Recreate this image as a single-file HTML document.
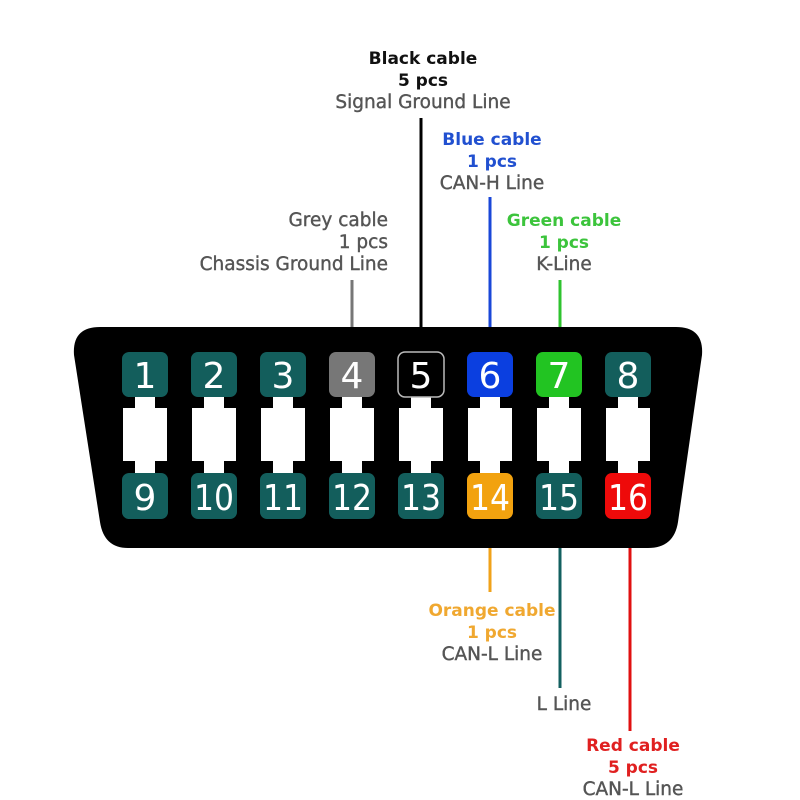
<!DOCTYPE html>
<html><head><meta charset="utf-8"><style>
html,body{margin:0;padding:0;background:#fff;}
svg{display:block;}
.t{font-family:"DejaVu Sans","Liberation Sans",sans-serif;font-size:17px;text-anchor:middle;}
.b{font-weight:bold;}
.g{fill:#555;font-size:18.5px;stroke:#555;stroke-width:0.4;}
.n{font-family:"DejaVu Sans","Liberation Sans",sans-serif;font-size:36px;fill:#fff;text-anchor:middle;font-weight:normal;}
</style></head><body>
<svg width="800" height="800" viewBox="0 0 800 800" xmlns="http://www.w3.org/2000/svg">
<rect width="800" height="800" fill="#fff"/>
<g stroke-width="3" fill="none">
<line x1="421" y1="118" x2="421" y2="354" stroke="#000"/>
<line x1="490" y1="197" x2="490" y2="354" stroke="#1a47d8"/>
<line x1="352" y1="280" x2="352" y2="354" stroke="#777"/>
<line x1="560" y1="280" x2="560" y2="354" stroke="#2fc32f"/>
<line x1="490" y1="518" x2="490" y2="592" stroke="#f0a21a"/>
<line x1="560" y1="518" x2="560" y2="688" stroke="#136060"/>
<line x1="630" y1="518" x2="630" y2="731" stroke="#e01010"/>
</g>
<path d="M100 327 L676 327 Q704 327 702 355 L678 522 Q674 548 648 548 L128 548 Q104 548 100 522 L74 355 Q72 327 100 327 Z" fill="#000"/>
<g id="pins">
</g>
<script>
(function(){
var g=document.getElementById('pins'),ns='http://www.w3.org/2000/svg';
var top=['#135e5c','#135e5c','#135e5c','#777','#000','#0b3fe0','#22c422','#135e5c'];
var bot=['#135e5c','#135e5c','#135e5c','#135e5c','#135e5c','#f2a20f','#135e5c','#ee0a0a'];
function el(n,a){var e=document.createElementNS(ns,n);for(var k in a)e.setAttribute(k,a[k]);g.appendChild(e);return e;}
for(var i=0;i<8;i++){
 var cx=145+69*i;
 el('rect',{x:cx-10,y:396,width:20,height:80,fill:'#fff'});
 el('rect',{x:cx-22,y:408,width:44,height:53,fill:'#fff'});
 var r=el('rect',{x:cx-23,y:352,width:46,height:45,rx:7,fill:top[i]});
 if(i==4){r.setAttribute('stroke','#bbb');r.setAttribute('stroke-width','1.5');}
 el('rect',{x:cx-23,y:473,width:46,height:46,rx:7,fill:bot[i]});
 var t=el('text',{x:cx,y:388,'class':'n'});t.textContent=String(i+1);
 var t2=el('text',{x:cx,y:510,'class':'n'});t2.textContent=String(i+9);
 if(i+9>=10){t2.setAttribute('textLength','40');t2.setAttribute('lengthAdjust','spacingAndGlyphs');}
}
})();
</script>
<text class="t b" x="423" y="64" fill="#111">Black cable</text>
<text class="t b" x="423" y="86" fill="#111">5 pcs</text>
<text class="t g" x="423" y="108">Signal Ground Line</text>
<text class="t b" x="492" y="145" fill="#2150d0">Blue cable</text>
<text class="t b" x="492" y="167" fill="#2150d0">1 pcs</text>
<text class="t g" x="492" y="189">CAN-H Line</text>
<text class="t g" x="388" y="226" style="text-anchor:end">Grey cable</text>
<text class="t g" x="388" y="248" style="text-anchor:end">1 pcs</text>
<text class="t g" x="388" y="270" style="text-anchor:end">Chassis Ground Line</text>
<text class="t b" x="564" y="226" fill="#3cc43c">Green cable</text>
<text class="t b" x="564" y="248" fill="#3cc43c">1 pcs</text>
<text class="t g" x="564" y="270">K-Line</text>
<text class="t b" x="492" y="616" fill="#f0a830">Orange cable</text>
<text class="t b" x="492" y="638" fill="#f0a830">1 pcs</text>
<text class="t g" x="492" y="660">CAN-L Line</text>
<text class="t g" x="564" y="710">L Line</text>
<text class="t b" x="633" y="751" fill="#e02020">Red cable</text>
<text class="t b" x="633" y="773" fill="#e02020">5 pcs</text>
<text class="t g" x="633" y="795">CAN-L Line</text>
</svg>
</body></html>
